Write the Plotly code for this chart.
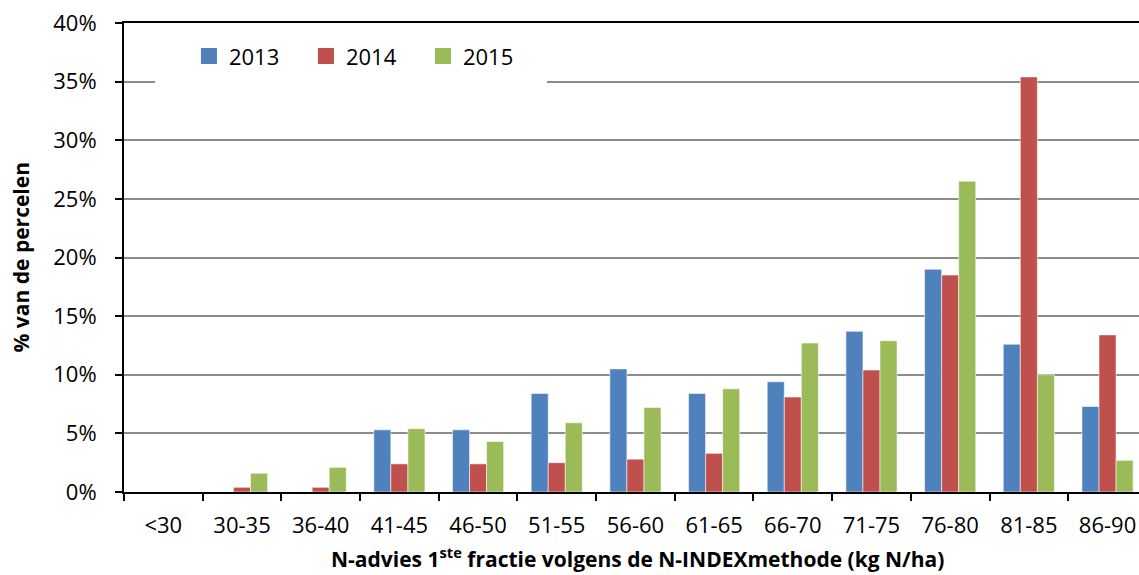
import plotly.graph_objects as go

# Klassen N-advies (kg N/ha) en aandeel percelen per jaar (%)
categories = ["<30", "30-35", "36-40", "41-45", "46-50", "51-55", "56-60",
              "61-65", "66-70", "71-75", "76-80", "81-85", "86-90"]
years = ["2013", "2014", "2015"]
pct_2013 = [0, 0, 0, 5.3, 5.3, 8.4, 10.5, 8.4, 9.4, 13.7, 19.0, 12.6, 7.3]
pct_2014 = [0, 0.4, 0.4, 2.4, 2.4, 2.5, 2.8, 3.3, 8.1, 10.4, 18.5, 35.4, 13.4]
pct_2015 = [0, 1.6, 2.1, 5.4, 4.3, 5.9, 7.2, 8.8, 12.7, 12.9, 26.5, 10.0, 2.7]
y_ticks = [0, 5, 10, 15, 20, 25, 30, 35, 40]

colors = ["#4F81BD", "#C0504D", "#9BBB59"]
series = [pct_2013, pct_2014, pct_2015]

FONT = "Open Sans, Noto Sans, sans-serif"

fig = go.Figure()
for name, vals, col in zip(years, series, colors):
    fig.add_trace(go.Bar(
        x=categories, y=vals, name=name, showlegend=False,
        marker=dict(color=col, line=dict(color="rgba(255,255,255,0.55)", width=1)),
    ))
    # legend entry with a larger square swatch
    fig.add_trace(go.Scatter(
        x=[None], y=[None], mode="markers", name=name,
        marker=dict(symbol="square", size=16, color=col),
    ))

# white patch behind the legend hiding part of the 35% gridline
fig.add_shape(type="rect", xref="x", yref="y", layer="between",
              x0=-0.106, x1=4.875, y0=34.3, y1=36.5,
              fillcolor="white", line=dict(width=0))

fig.update_layout(
    width=1139, height=575,
    margin=dict(l=124, r=0, t=23, b=83),
    paper_bgcolor="white", plot_bgcolor="white",
    barmode="group", bargap=0.35, bargroupgap=0,
    font=dict(family=FONT, size=22, color="#000000"),
    legend=dict(
        orientation="h", x=0.064, y=0.974, xanchor="left", yanchor="top",
        bgcolor="rgba(0,0,0,0)", font=dict(size=22),
        entrywidth=72, entrywidthmode="pixels", itemwidth=30,
    ),
    annotations=[
        dict(text="<b>% van de percelen</b>", textangle=-90, xref="paper", yref="paper",
             x=(20 - 124) / 1015, y=0.5, showarrow=False,
             font=dict(size=21, family=FONT, color="#000000"),
             xanchor="center", yanchor="middle"),
        dict(text="<b>N-advies 1<sup>ste</sup> fractie volgens de N-INDEXmethode (kg N/ha)</b>",
             xref="paper", yref="paper", x=(637 - 124) / 1015, y=(492 - 557) / 469,
             showarrow=False, font=dict(size=21, family=FONT, color="#000000"),
             xanchor="center", yanchor="middle"),
    ],
)

fig.update_xaxes(
    type="category", range=[-0.5, 12.4],
    showline=True, linecolor="#000000", linewidth=2, mirror=True,
    ticks="outside", tickson="boundaries", ticklen=7, tickwidth=2, tickcolor="#000000",
    ticklabelstandoff=13, showgrid=False, zeroline=False,
)
fig.update_yaxes(
    range=[0, 40], tickvals=y_ticks, ticktext=[f"{v}%" for v in y_ticks],
    showline=True, linecolor="#000000", linewidth=2, mirror=False,
    ticks="outside", ticklen=7, tickwidth=2, tickcolor="#000000",
    ticklabelstandoff=14,
    showgrid=True, gridcolor="#8C8C8C", gridwidth=1.5, zeroline=False,
)

fig.write_html("out.html")
